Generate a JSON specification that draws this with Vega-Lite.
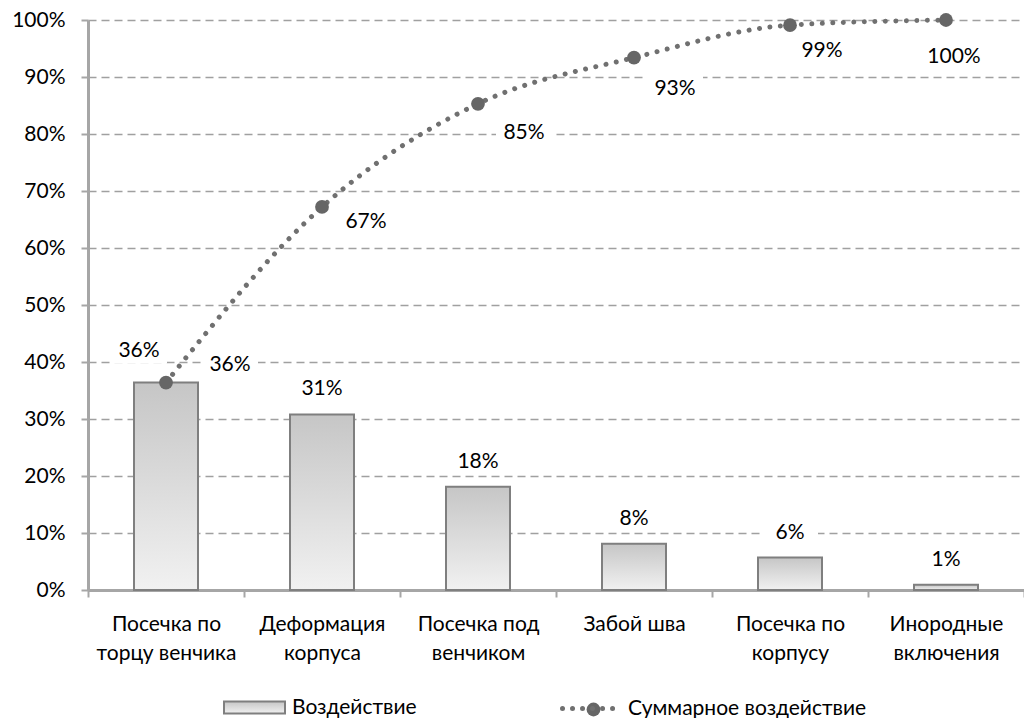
{
  "$schema": "https://vega.github.io/schema/vega-lite/v6.json",
  "width": 936,
  "height": 570,
  "autosize": {"type": "none"},
  "padding": {"left": 88, "top": 20, "right": 0, "bottom": 128},
  "background": "white",
  "config": {
    "font": "Lato",
    "view": {"stroke": null},
    "axis": {
      "labelFont": "Lato",
      "labelColor": "#000000",
      "labelFontSize": 21,
      "domainColor": "#a6a6a6",
      "domainWidth": 3,
      "tickColor": "#a6a6a6",
      "tickWidth": 2,
      "tickSize": 7
    },
    "legend": {
      "labelFont": "Lato",
      "labelFontSize": 21,
      "labelColor": "#000000",
      "labelLimit": 0,
      "padding": 0,
      "title": null
    },
    "text": {"font": "Lato", "fontSize": 21, "color": "#000000"}
  },
  "data": {
    "values": [
      {"cat": "Посечка по\nторцу венчика", "value": 0.364, "cum": 0.364},
      {"cat": "Деформация\nкорпуса", "value": 0.308, "cum": 0.672},
      {"cat": "Посечка под\nвенчиком", "value": 0.181, "cum": 0.853},
      {"cat": "Забой шва", "value": 0.081, "cum": 0.934},
      {"cat": "Посечка по\nкорпусу", "value": 0.057, "cum": 0.991},
      {"cat": "Инородные\nвключения", "value": 0.009, "cum": 1.0}
    ]
  },
  "encoding": {
    "x": {
      "field": "cat",
      "type": "nominal",
      "sort": null,
      "scale": {"paddingInner": 0, "paddingOuter": 0},
      "axis": {
        "title": null,
        "labelAngle": 0,
        "labelExpr": "split(datum.label, '\\n')",
        "labelLineHeight": 29,
        "labelPadding": 16,
        "labelLimit": 0,
        "tickBand": "extent",
        "grid": false
      }
    }
  },
  "layer": [
    {
      "mark": {
        "type": "bar",
        "size": 64,
        "strokeWidth": 2,
        "fill": {
          "gradient": "linear",
          "x1": 0, "y1": 0, "x2": 0, "y2": 1,
          "stops": [
            {"offset": 0, "color": "#c6c6c6"},
            {"offset": 1, "color": "#f1f1f1"}
          ]
        }
      },
      "encoding": {
        "y": {
          "field": "value",
          "type": "quantitative",
          "scale": {"domain": [0, 1], "nice": false},
          "axis": {
            "title": null,
            "format": ".0%",
            "values": [0, 0.1, 0.2, 0.3, 0.4, 0.5, 0.6, 0.7, 0.8, 0.9, 1],
            "grid": true,
            "gridDash": [8, 5],
            "gridColor": "#a0a0a0",
            "gridWidth": 1.5,
            "labelPadding": 16
          }
        },
        "stroke": {
          "datum": "Воздействие",
          "type": "nominal",
          "scale": {"range": ["#7f7f7f"]},
          "legend": {
            "orient": "none",
            "legendX": 135,
            "legendY": 656,
            "symbolType": "M-1,-0.2H1V0.2H-1Z",
            "symbolSize": 3721,
            "symbolStrokeWidth": 2,
            "labelOffset": 6,
            "encode": {
              "symbols": {
                "update": {
                  "fill": {
                    "value": {
                      "gradient": "linear",
                      "x1": 0, "y1": 0, "x2": 0, "y2": 1,
                      "stops": [
                        {"offset": 0, "color": "#c6c6c6"},
                        {"offset": 1, "color": "#f1f1f1"}
                      ]
                    }
                  },
                  "fillOpacity": {"value": 1}
                }
              }
            }
          }
        }
      }
    },
    {
      "mark": {
        "type": "point",
        "shape": "M-1,-0.464H1V0.464H-1Z",
        "size": 3136,
        "filled": true,
        "fill": "white",
        "opacity": 1,
        "strokeWidth": 0,
        "xOffset": {"expr": "datum.value > 0.35 ? -27 : 0"},
        "yOffset": {"expr": "datum.value > 0.35 ? -32 : -25"}
      },
      "encoding": {
        "y": {"field": "value", "type": "quantitative"}
      }
    },
    {
      "mark": {
        "type": "point",
        "shape": "M-1,-0.464H1V0.464H-1Z",
        "size": 3136,
        "filled": true,
        "fill": "white",
        "opacity": 1,
        "strokeWidth": 0,
        "xOffset": {"expr": "datum.cum < 0.4 ? 64 : datum.cum < 0.7 ? 44 : datum.cum < 0.9 ? 46 : datum.cum < 0.95 ? 41 : datum.cum < 0.995 ? 32 : 8"},
        "yOffset": {"expr": "datum.cum < 0.4 ? -18 : datum.cum < 0.7 ? 15 : datum.cum < 0.9 ? 29 : datum.cum < 0.95 ? 31 : datum.cum < 0.995 ? 26 : 37"}
      },
      "encoding": {
        "y": {"field": "cum", "type": "quantitative"}
      }
    },
    {
      "mark": {
        "type": "line",
        "interpolate": "monotone",
        "strokeWidth": 5,
        "strokeCap": "round",
        "strokeDash": [0.01, 10.5]
      },
      "encoding": {
        "y": {"field": "cum", "type": "quantitative"},
        "stroke": {
          "datum": "Суммарное воздействие",
          "type": "nominal",
          "scale": {"range": ["#707070"]},
          "legend": {
            "orient": "none",
            "legendX": 472,
            "legendY": 656,
            "symbolType": "stroke",
            "symbolSize": 3600,
            "symbolStrokeWidth": 5,
            "symbolDash": [0.01, 10],
            "labelOffset": 3,
            "encode": {
              "symbols": {"update": {"strokeCap": {"value": "round"}}}
            }
          }
        }
      }
    },
    {
      "mark": {"type": "point", "filled": true, "size": 190, "opacity": 1, "strokeWidth": 0},
      "encoding": {
        "y": {"field": "cum", "type": "quantitative"},
        "fill": {
          "datum": "Суммарное воздействие",
          "type": "nominal",
          "scale": {"range": ["#666666"]},
          "legend": {
            "orient": "none",
            "legendX": 495,
            "legendY": 679,
            "symbolType": "circle",
            "symbolSize": 190,
            "symbolStrokeWidth": 0,
            "labelExpr": "''"
          }
        }
      }
    },
    {
      "mark": {
        "type": "text",
        "align": "center",
        "baseline": "middle",
        "xOffset": {"expr": "datum.value > 0.35 ? -27 : 0"},
        "yOffset": {"expr": "datum.value > 0.35 ? -32 : -25"}
      },
      "encoding": {
        "y": {"field": "value", "type": "quantitative"},
        "text": {"field": "value", "type": "quantitative", "format": ".0%"}
      }
    },
    {
      "mark": {
        "type": "text",
        "align": "center",
        "baseline": "middle",
        "xOffset": {"expr": "datum.cum < 0.4 ? 64 : datum.cum < 0.7 ? 44 : datum.cum < 0.9 ? 46 : datum.cum < 0.95 ? 41 : datum.cum < 0.995 ? 32 : 8"},
        "yOffset": {"expr": "datum.cum < 0.4 ? -18 : datum.cum < 0.7 ? 15 : datum.cum < 0.9 ? 29 : datum.cum < 0.95 ? 31 : datum.cum < 0.995 ? 26 : 37"}
      },
      "encoding": {
        "y": {"field": "cum", "type": "quantitative"},
        "text": {"field": "cum", "type": "quantitative", "format": ".0%"}
      }
    }
  ],
  "resolve": {
    "scale": {"stroke": "independent"},
    "legend": {"stroke": "independent"}
  }
}
